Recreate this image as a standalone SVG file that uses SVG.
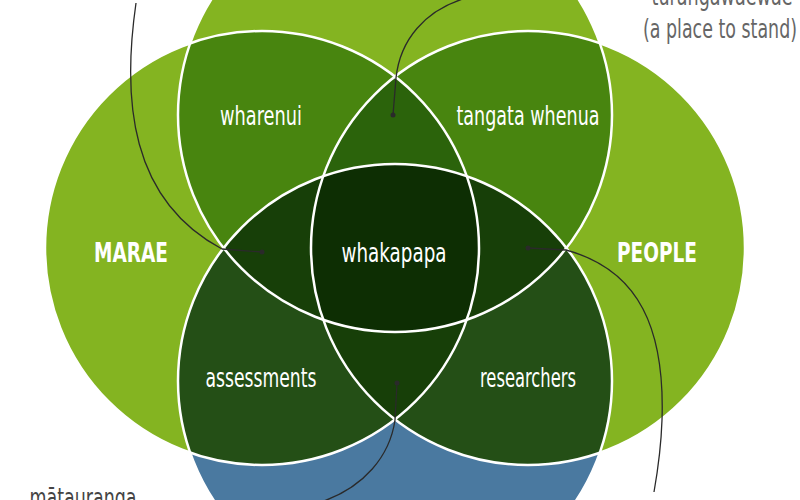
<svg xmlns="http://www.w3.org/2000/svg" width="800" height="500" viewBox="0 0 800 500">
<style>
.lbl{font-family:"Liberation Sans Narrow","DejaVu Sans Condensed","Liberation Sans",sans-serif;font-size:26px;fill:#ffffff;text-anchor:middle}
.big{font-weight:bold}
.note{font-family:"Liberation Sans Narrow","DejaVu Sans Condensed","Liberation Sans",sans-serif;font-size:26px;text-anchor:middle}
.edge{fill:none;stroke:#ffffff;stroke-width:2.5}
.con{fill:none;stroke:#2a2a2a;stroke-width:1.3}
.dot{fill:#2a2a2a}
</style>
<defs>
<clipPath id="cL"><circle cx="262" cy="248" r="217"/></clipPath>
<clipPath id="cR"><circle cx="528" cy="248" r="217"/></clipPath>
<clipPath id="cT"><circle cx="395" cy="115" r="217"/></clipPath>
<clipPath id="cB"><circle cx="395" cy="381" r="217"/></clipPath>
</defs>
<rect width="800" height="500" fill="#ffffff"/>
<g id="fills">
<circle cx="262" cy="248" r="217" fill="#84b421"/>
<circle cx="528" cy="248" r="217" fill="#84b421"/>
<circle cx="395" cy="115" r="217" fill="#84b421"/>
<circle cx="395" cy="381" r="217" fill="#4a79a0"/>
<g clip-path="url(#cT)">
<circle cx="262" cy="248" r="217" fill="#48850f"/>
<circle cx="528" cy="248" r="217" fill="#48850f"/>
</g>
<g clip-path="url(#cB)">
<circle cx="262" cy="248" r="217" fill="#244f16"/>
<circle cx="528" cy="248" r="217" fill="#244f16"/>
</g>
<g clip-path="url(#cT)"><g clip-path="url(#cL)"><circle cx="528" cy="248" r="217" fill="#2b630b"/></g></g>
<g clip-path="url(#cB)"><g clip-path="url(#cT)">
<circle cx="262" cy="248" r="217" fill="#173f08"/>
<circle cx="528" cy="248" r="217" fill="#173f08"/>
</g></g>
<g clip-path="url(#cB)"><g clip-path="url(#cL)"><circle cx="528" cy="248" r="217" fill="#173f08"/></g></g>
<g clip-path="url(#cB)"><g clip-path="url(#cT)"><g clip-path="url(#cL)"><circle cx="528" cy="248" r="217" fill="#0d2e03"/></g></g></g>
</g>
<g id="marae"><circle class="edge" cx="262" cy="248" r="217"/><text class="lbl big" x="131" y="262" textLength="74" lengthAdjust="spacingAndGlyphs">MARAE</text></g>
<g id="people"><circle class="edge" cx="528" cy="248" r="217"/><text class="lbl big" x="657" y="262" textLength="80" lengthAdjust="spacingAndGlyphs">PEOPLE</text></g>
<g id="top-set"><circle class="edge" cx="395" cy="115" r="217"/></g>
<g id="bottom-set"><circle class="edge" cx="395" cy="381" r="217"/></g>
<g id="wharenui"><text class="lbl" x="261" y="125" textLength="82" lengthAdjust="spacingAndGlyphs">wharenui</text></g>
<g id="tangata-whenua"><text class="lbl" x="528" y="125" textLength="143" lengthAdjust="spacingAndGlyphs">tangata whenua</text></g>
<g id="whakapapa"><text class="lbl" x="394" y="262" textLength="105" lengthAdjust="spacingAndGlyphs">whakapapa</text></g>
<g id="assessments"><text class="lbl" x="261" y="387" textLength="111" lengthAdjust="spacingAndGlyphs">assessments</text></g>
<g id="researchers"><text class="lbl" x="528" y="387" textLength="96" lengthAdjust="spacingAndGlyphs">researchers</text></g>
<g id="turangawaewae" fill="#666666">
<text class="note" x="722" y="5" textLength="141" lengthAdjust="spacingAndGlyphs">tūrangawaewae</text>
<text class="note" x="720" y="38" textLength="154" lengthAdjust="spacingAndGlyphs">(a place to stand)</text>
</g>
<g id="matauranga" fill="#444444"><text class="note" x="83" y="507" textLength="107" lengthAdjust="spacingAndGlyphs">mātauranga</text></g>
<g id="connectors">
<path class="con" d="M136,3 C122,100 130,200 222,249 L262,252"/>
<path class="con" d="M466,-2 C425,10 400,40 396,78 L393,115"/>
<path class="con" d="M528,248 L566,250 C640,270 665,330 662,420 C661,450 657,475 654,492"/>
<path class="con" d="M397,383 L395,420 C390,455 365,488 318,503"/>
<circle class="dot" cx="262" cy="252" r="2.5"/>
<circle class="dot" cx="393" cy="115" r="2.5"/>
<circle class="dot" cx="528" cy="248" r="2.5"/>
<circle class="dot" cx="397" cy="383" r="2.5"/>
</g>
</svg>
